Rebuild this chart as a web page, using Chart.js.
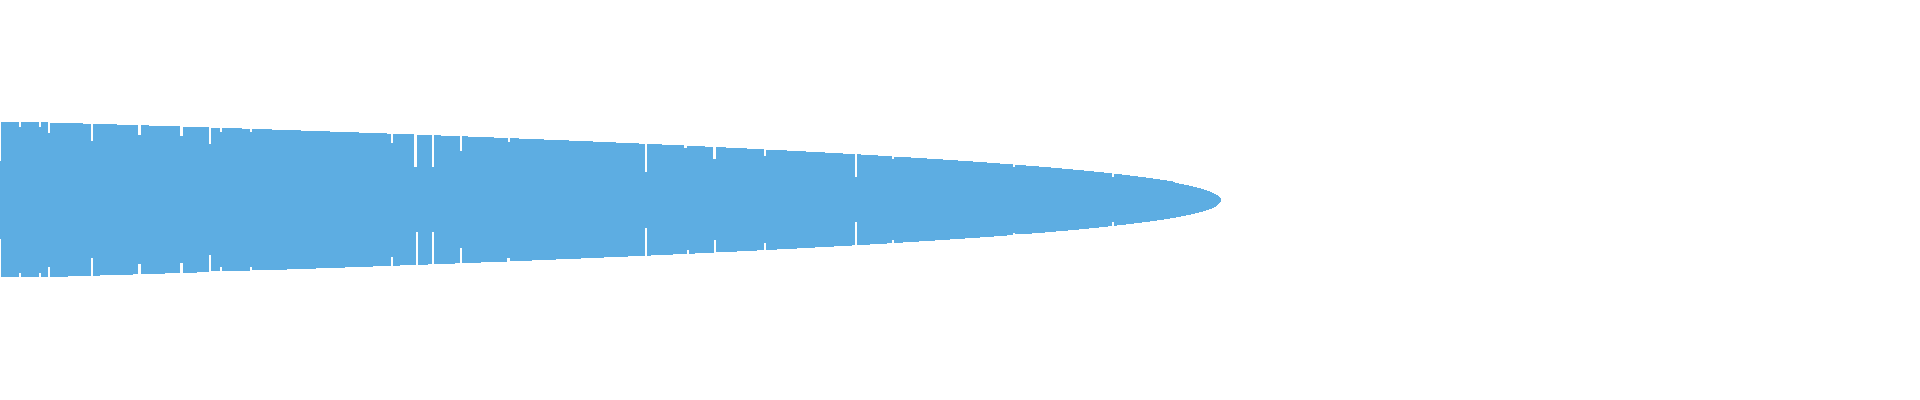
<!DOCTYPE html>
<html>
<head>
<meta charset="utf-8">
<script src="https://cdn.jsdelivr.net/npm/chart.js@4.4.1/dist/chart.umd.min.js"></script>
<style>
  html, body { margin: 0; padding: 0; background: #fff; }
  #wrap { width: 1920px; height: 400px; position: relative; }
</style>
</head>
<body>
<div id="wrap"><canvas id="myChart"></canvas></div>
<script>
// upper edge: where each step starts and its value
const topX = [0, 1, 19, 21, 39, 41, 48, 50, 83, 91, 93, 117, 138, 141, 149, 180, 183, 209, 211, 220, 222, 242, 250, 252, 272, 301, 330, 359, 387, 391, 393,
  414, 417, 432, 434, 441, 460, 462, 468, 494, 508, 510, 519, 544, 569, 593, 616, 639, 645, 647, 662, 684, 687, 705, 713, 716, 726, 747, 764, 766, 787,
  806, 825, 843, 855, 857, 861, 878, 892, 894, 911, 927, 943, 958, 973, 987, 1000, 1013, 1015, 1026, 1039, 1051, 1062, 1073, 1084, 1094, 1104, 1112, 1114,
  1122, 1130, 1138, 1146, 1153, 1160, 1167, 1173, 1175, 1179, 1184, 1189, 1193, 1197, 1201, 1204, 1207, 1210, 1212, 1214, 1216, 1218, 1219, 1220, 1221];
const topV = [77, 155, 145, 155, 145, 155, 133, 153, 151, 117, 151, 149, 129, 149, 147, 127, 145, 111, 143, 135, 143, 141, 135, 141, 139, 137, 135, 133, 131, 113, 131,
  65, 129, 65, 129, 127, 97, 127, 125, 123, 115, 123, 121, 119, 117, 115, 113, 111, 55, 111, 109, 103, 107, 105, 81, 105, 103, 101, 87, 99, 97,
  95, 93, 91, 45, 91, 89, 87, 81, 85, 83, 81, 79, 77, 75, 73, 71, 65, 69, 67, 65, 63, 61, 59, 57, 55, 53, 45, 51,
  49, 47, 45, 43, 41, 39, 37, 35, 33, 31, 29, 27, 25, 23, 21, 19, 17, 15, 13, 11, 9, 7, 5, 3, 3];

// lower edge
const botX = [0, 1, 19, 21, 39, 41, 48, 50, 68, 91, 93, 100, 133, 138, 141, 165, 180, 183, 197, 209, 211, 220, 222, 250, 252, 287, 316, 345, 373, 391, 393, 400,
  416, 418, 428, 432, 434, 455, 460, 462, 481, 507, 510, 532, 556, 581, 604, 628, 645, 647, 651, 673, 687, 689, 695, 714, 716, 737, 757, 764, 766, 777, 797,
  815, 834, 852, 855, 857, 870, 887, 892, 894, 903, 919, 935, 950, 965, 980, 994, 1007, 1013, 1015, 1032, 1045, 1056, 1068, 1079, 1089, 1099, 1108, 1112, 1114,
  1117, 1126, 1134, 1142, 1150, 1157, 1164, 1170, 1176, 1181, 1186, 1191, 1195, 1199, 1203, 1206, 1209, 1212, 1214, 1216, 1217, 1218, 1219, 1220, 1221];
const botV = [-79, -155, -147, -155, -147, -155, -135, -155, -153, -117, -153, -151, -149, -129, -149, -147, -127, -147, -145, -111, -143, -135, -143, -135, -141, -139, -137, -135, -133, -115, -133, -131,
  -65, -131, -129, -65, -129, -127, -97, -127, -125, -117, -123, -121, -119, -117, -115, -113, -57, -113, -111, -109, -101, -109, -107, -81, -105, -103, -101, -87, -101, -99, -97,
  -95, -93, -91, -45, -91, -89, -87, -81, -87, -85, -83, -81, -79, -77, -75, -73, -71, -67, -69, -67, -65, -63, -61, -59, -57, -55, -53, -45, -53,
  -51, -49, -47, -45, -43, -41, -39, -37, -35, -33, -31, -29, -27, -25, -23, -21, -19, -17, -15, -13, -11, -9, -7, -5, -5];

const blue = '#5dade2';

function toPoints(xs, vs) {
  return xs.map((x, i) => ({ x: x, y: vs[i] }));
}

const ctx = document.getElementById('myChart');
new Chart(ctx, {
  type: 'line',
  data: {
    datasets: [{
      data: toPoints(topX, topV),
      stepped: true,
      borderWidth: 0,
      borderColor: blue,
      backgroundColor: blue,
      pointRadius: 0,
      fill: { value: -1 }
    }, {
      data: toPoints(botX, botV),
      stepped: true,
      borderWidth: 0,
      borderColor: blue,
      backgroundColor: blue,
      pointRadius: 0,
      fill: { value: 1 }
    }]
  },
  options: {
    responsive: true,
    maintainAspectRatio: false,
    animation: false,
    layout: { padding: 0 },
    plugins: {
      legend: { display: false },
      tooltip: { enabled: false }
    },
    scales: {
      x: { type: 'linear', min: 0, max: 1920, display: false },
      y: { min: -401, max: 399, display: false }
    }
  }
});
</script>
</body>
</html>
